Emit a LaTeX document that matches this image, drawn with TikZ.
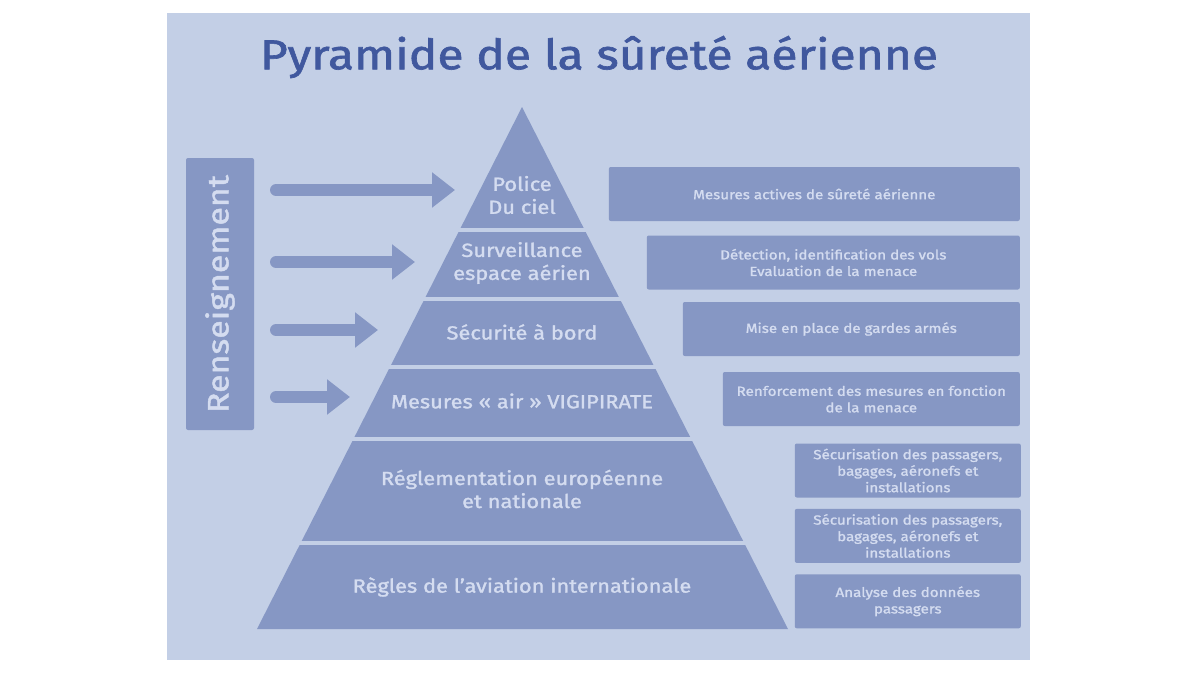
\documentclass[tikz,border=0pt]{standalone}
\usepackage{fontspec}
\setmainfont{Fira Sans}[FakeStretch=1.15]
\newfontfamily\medfont{Fira Sans}[FakeStretch=1.15,FakeBold=1.5]
\usepackage{tikz}
\usetikzlibrary{
  arrows.meta,
  calc,
  positioning
}
\definecolor{panelblue}{RGB}{195,207,230}
\definecolor{shapeblue}{RGB}{134,151,196}
\definecolor{lighttext}{RGB}{212,220,240}
\definecolor{titleblue}{RGB}{64,88,158}
\tikzset{
  layertext/.style={text=lighttext,align=center,inner sep=0pt,
    font=\medfont\fontsize{19}{23}\selectfont},
  measurebox/.style={fill=shapeblue,rounded corners=2pt,text=lighttext,
    align=center,inner sep=0pt,minimum height=54pt,anchor=east,
    font=\medfont\fontsize{13.2}{16.5}\selectfont},
  intelbox/.style={fill=shapeblue,rounded corners=2pt,text=lighttext,
    rotate=90,minimum width=272pt,minimum height=68pt,inner sep=0pt,
    font=\medfont\fontsize{29.5}{30}\selectfont},
  intelflow/.style={-{Triangle[length=23pt,width=34pt]},line width=12pt,
    draw=shapeblue,line cap=round},
  separator/.style={draw=panelblue,line width=4pt}
}

\begin{document}
\begin{tikzpicture}[x=1pt,y=-1pt,node distance=11pt]
  \useasboundingbox (0,0) rectangle (1200,675);
  \fill[panelblue] (167,13) rectangle (1030,660);
  \node[text=titleblue,font=\medfont\fontsize{41.7}{46}\selectfont] (title)
    at (599,57) {Pyramide de la sûreté aérienne};
  % pyramid and its layers
  \fill[shapeblue] (522,107) -- (788,629) -- (257,629) -- cycle;
  \foreach \y in {230,299,367,439,543}{
    \pgfmathsetmacro{\hw}{(\y-107)*0.5086+6}
    \draw[separator] (522-\hw,\y) -- (522+\hw,\y);
  }
  \node[layertext] (police) at (522,195) {Police\\Du ciel};
  \node[layertext] (surveillance) at (522,263) {Surveillance\\espace aérien};
  \node[layertext] (securite) at (522,332) {Sécurité à bord};
  \node[layertext] (vigipirate) at (522,401) {Mesures « air » VIGIPIRATE};
  \node[layertext] (reglementation) at (522,489)
    {Réglementation européenne\\et nationale};
  \node[layertext] (regles) at (522,587) {Règles de l’aviation internationale};
  % renseignement
  \node[intelbox] (intel) at (220,294) {Renseignement};
  \coordinate (tail1) at (276,190);
  \coordinate (tip1) at (455,190);
  \coordinate (tail2) at (276,262);
  \coordinate (tip2) at (415,262);
  \coordinate (tail3) at (276,330);
  \coordinate (tip3) at (378,330);
  \coordinate (tail4) at (276,397);
  \coordinate (tip4) at (350,397);
  \foreach \i in {1,...,4}{
    \draw[intelflow] (tail\i) -- (tip\i);
  }
  % measures
  \node[measurebox,minimum width=411pt] (active) at (1020,194)
    {Mesures actives de sûreté aérienne};
  \node[measurebox,minimum width=373pt] (detection) at (1020,262.5)
    {Détection, identification des vols\\Evaluation de la menace};
  \node[measurebox,minimum width=337pt] (gardes) at (1020,329)
    {Mise en place de gardes armés};
  \node[measurebox,minimum width=297pt] (renfort) at (1020,399)
    {Renforcement des mesures en fonction\\de la menace};
  \node[measurebox,minimum width=226pt] (passagers) at (1021,470.5)
    {Sécurisation des passagers,\\bagages, aéronefs et\\installations};
  \node[measurebox,minimum width=226pt,below=of passagers.south east,anchor=north east]
    (bagages) {Sécurisation des passagers,\\bagages, aéronefs et\\installations};
  \node[measurebox,minimum width=226pt,below=of bagages.south east,anchor=north east]
    (donnees) {Analyse des données\\passagers};
\end{tikzpicture}
\end{document}
